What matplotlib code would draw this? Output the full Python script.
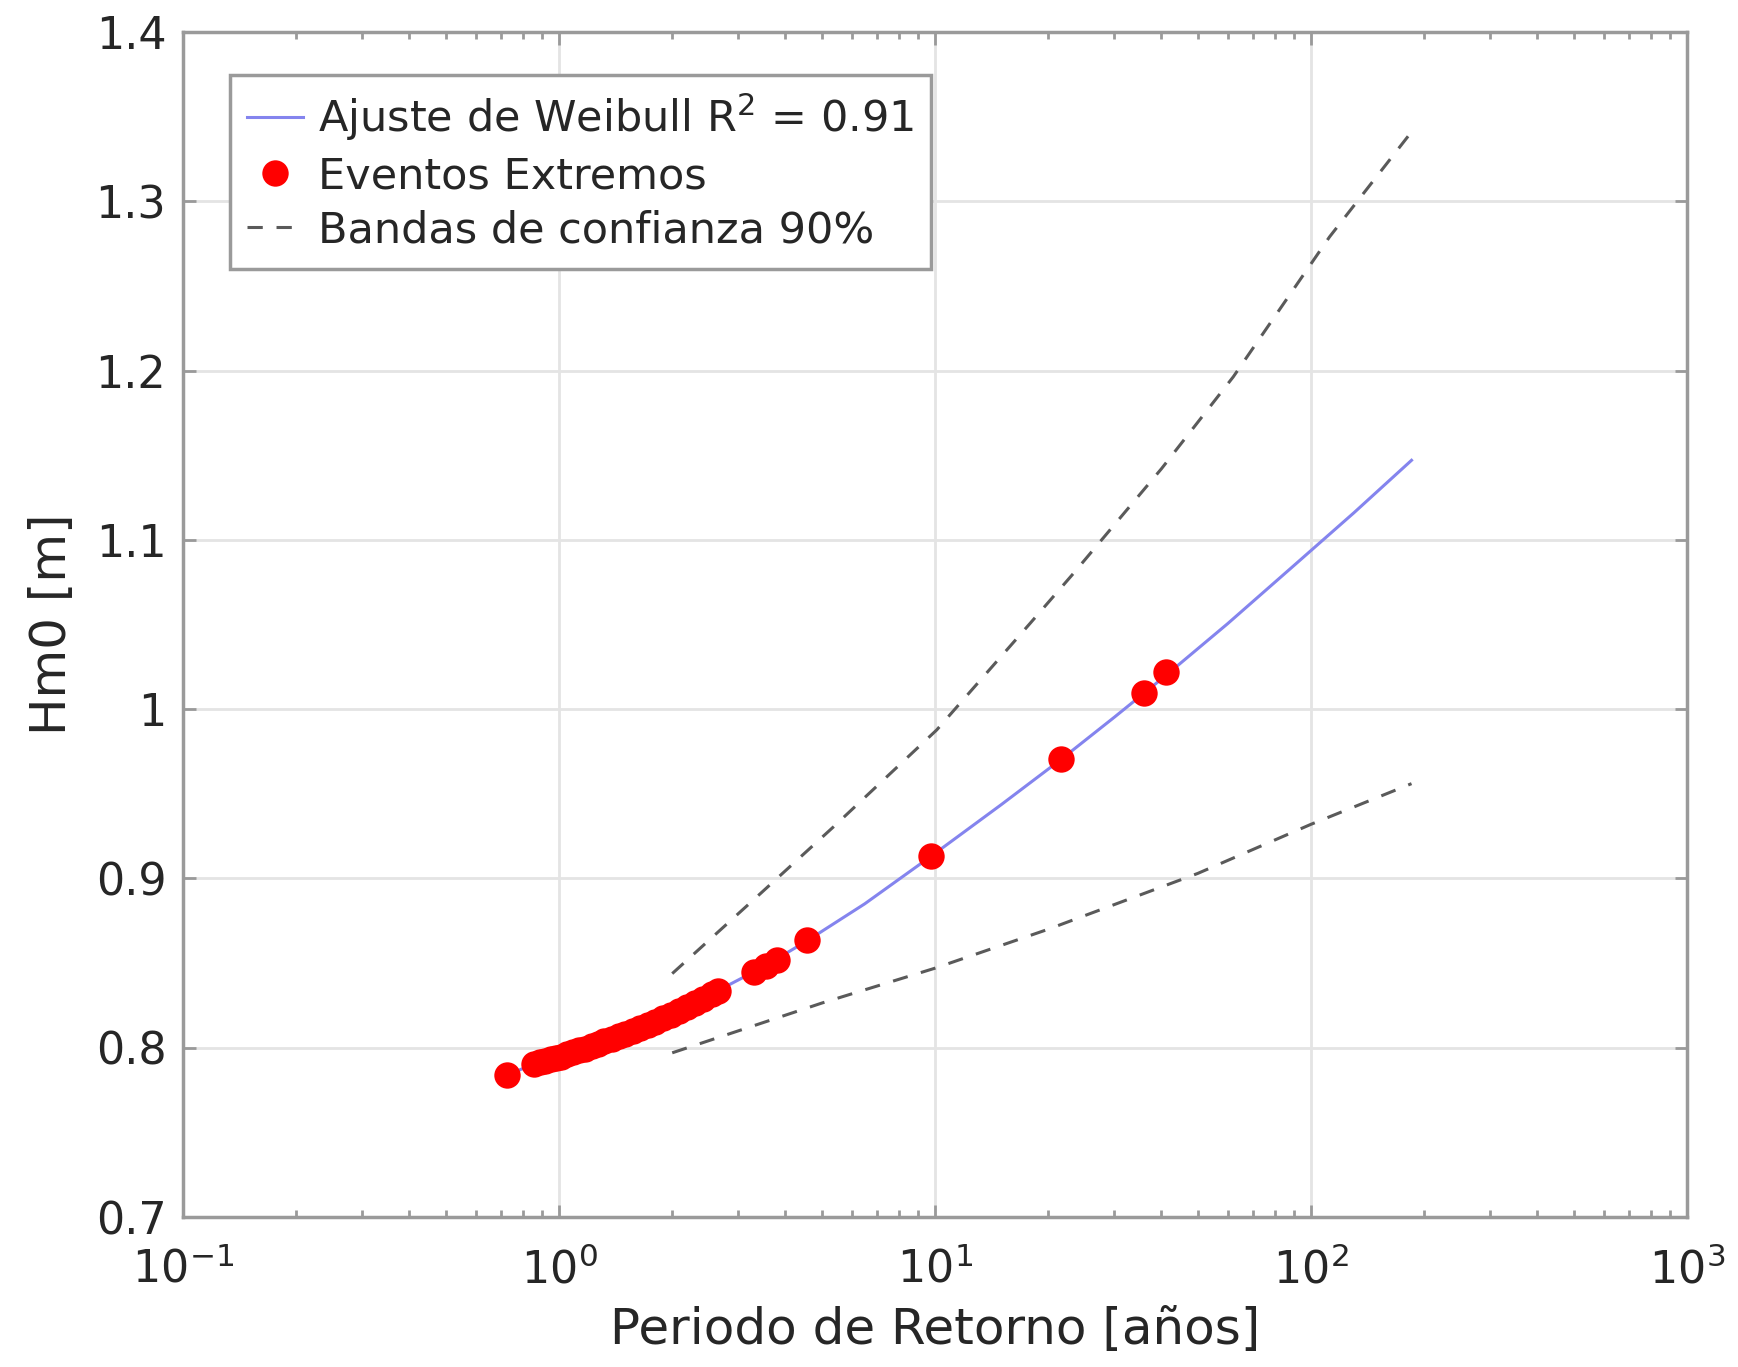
import numpy as np
import matplotlib
matplotlib.use("Agg")
import matplotlib.pyplot as plt
from matplotlib.ticker import LogLocator, NullFormatter

# ajuste de Weibull (periodo de retorno en años, Hm0 en m)
fit_T = [0.725, 0.85, 1.0, 1.25, 1.5, 2.0, 2.6, 3.5, 4.6, 6.5, 9.8, 15,
         21.6, 30, 41, 60, 90, 130, 185]
fit_H = [0.7838, 0.790, 0.7945, 0.8017, 0.8083, 0.8199, 0.8329, 0.8478,
         0.8636, 0.885, 0.9134, 0.9436, 0.9702, 0.9953, 1.0197, 1.0505,
         1.0848, 1.116, 1.147]

# bandas de confianza 90%
up_T = [2.0, 3.36, 5.37, 10.1, 17.9, 23.3, 40, 62.1, 112, 185]
up_H = [0.8438, 0.8892, 0.9305, 0.9877, 1.0507, 1.080, 1.142, 1.1963, 1.279, 1.341]
lo_T = [2.0, 3.0, 5.0, 10, 20, 50, 100, 185]
lo_H = [0.797, 0.810, 0.8264, 0.847, 0.870, 0.903, 0.932, 0.956]

# eventos extremos
ev_T = [0.725, 0.86, 0.89, 0.92, 0.95, 0.98, 1.01, 1.05, 1.09, 1.13, 1.17,
        1.22, 1.27, 1.32, 1.38, 1.44, 1.50, 1.57, 1.64, 1.72, 1.80, 1.89,
        1.98, 2.08, 2.19, 2.30, 2.42, 2.55, 2.65, 3.3, 3.55, 3.8, 4.57,
        9.76, 21.6, 35.9, 41.1]
ev_H = [0.7839, 0.7903, 0.7913, 0.7922, 0.7931, 0.7939, 0.7948, 0.7961,
        0.7973, 0.7984, 0.7995, 0.8009, 0.8023, 0.8037, 0.8053, 0.8068,
        0.8083, 0.8101, 0.8118, 0.8137, 0.8155, 0.8175, 0.8195, 0.8217,
        0.8241, 0.8264, 0.8289, 0.8317, 0.8338, 0.8448, 0.8485, 0.852,
        0.8636, 0.9134, 0.9704, 1.0096, 1.0221]

yticks = [0.7, 0.8, 0.9, 1.0, 1.1, 1.2, 1.3, 1.4]
ytick_labels = ["0.7", "0.8", "0.9", "1", "1.1", "1.2", "1.3", "1.4"]

txt = "#262626"
plt.rcParams["font.family"] = ["DejaVu Sans"]
plt.rcParams["mathtext.fontset"] = "dejavusans"

fig = plt.figure(figsize=(17.38, 13.67), dpi=100)
ax = fig.add_axes([0.1053, 0.1097, 0.8654, 0.8669])

ax.plot(fit_T, fit_H, color="#8484ee", linewidth=2.2,
        label=r"Ajuste de Weibull R$^2$ = 0.91", zorder=3)
ax.plot(ev_T, ev_H, "o", color="#ff0000", markersize=19, markeredgewidth=0,
        label="Eventos Extremos", zorder=4)
ax.plot(up_T, up_H, color="#5a5a5a", linewidth=2.2, linestyle=(0, (5, 4.5)),
        label="Bandas de confianza 90%", zorder=2)
ax.plot(lo_T, lo_H, color="#5a5a5a", linewidth=2.2, linestyle=(0, (5, 4.5)),
        zorder=2)

ax.set_xscale("log")
ax.set_xlim(0.1, 1000)
ax.set_ylim(0.7, 1.4)
ax.set_yticks(yticks)
ax.set_yticklabels(ytick_labels)
ax.xaxis.set_major_locator(LogLocator(base=10, numticks=10))
ax.xaxis.set_minor_locator(LogLocator(base=10, subs=np.arange(2, 10), numticks=50))
ax.xaxis.set_minor_formatter(NullFormatter())

ax.grid(True, which="major", color="#e4e4e4", linewidth=2)
ax.set_axisbelow(True)
for s in ax.spines.values():
    s.set_color("#9a9a9a")
    s.set_linewidth(2.5)
ax.tick_params(which="both", direction="in", top=True, right=True,
               colors="#9a9a9a", labelcolor=txt, labelsize=32, width=2)
ax.tick_params(which="major", length=9)
ax.tick_params(which="minor", length=5)
ax.tick_params(axis="y", pad=12)
ax.tick_params(axis="x", pad=22)

ax.set_xlabel("Periodo de Retorno [años]", fontsize=36, color=txt, labelpad=10)
ax.set_ylabel("Hm0 [m]", fontsize=36, color=txt, labelpad=14)

leg = ax.legend(loc="upper left", bbox_to_anchor=(0.031, 0.964),
                borderaxespad=0, fontsize=31, frameon=True, fancybox=False,
                framealpha=1, edgecolor="#9a9a9a", handlelength=1.3,
                handletextpad=0.35, labelspacing=0.28, borderpad=0.4,
                numpoints=1)
leg.get_frame().set_linewidth(2.5)
for t in leg.get_texts():
    t.set_color(txt)

fig.savefig("out.png", dpi=100)
